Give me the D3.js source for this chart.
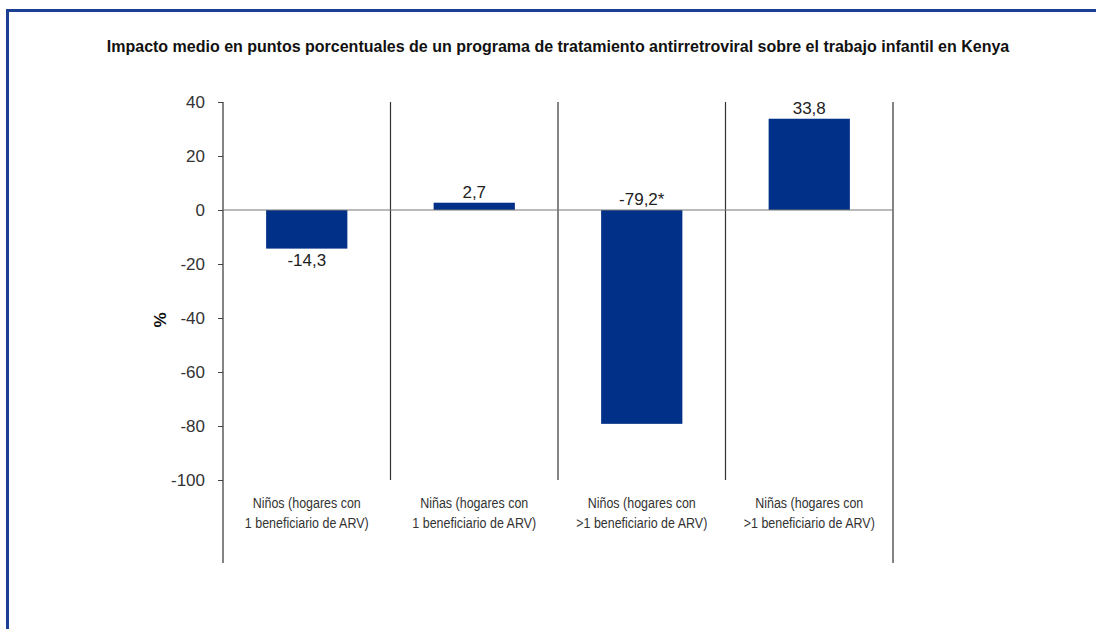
<!DOCTYPE html>
<html>
<head>
<meta charset="utf-8">
<script src="https://cdn.jsdelivr.net/npm/d3@7"></script>
<style>
  body { margin: 0; background: #fff; }
  svg { display: block; }
</style>
</head>
<body>
<div id="chart"></div>
<script>
// data
const categories = [
    ["Niños (hogares con", "1 beneficiario de ARV)"],
    ["Niñas (hogares con", "1 beneficiario de ARV)"],
    ["Niños (hogares con", ">1 beneficiario de ARV)"],
    ["Niñas (hogares con", ">1 beneficiario de ARV)"]
];
const values = [-14.3, 2.7, -79.2, 33.8];
const valueLabels = ["-14,3", "2,7", "-79,2*", "33,8"];
const labelAt = ["end", "end", "base", "end"];
const yTicks = [40, 20, 0, -20, -40, -60, -80, -100];
const title = "Impacto medio en puntos porcentuales de un programa de tratamiento antirretroviral sobre el trabajo infantil en Kenya";

const W = 1096, H = 629;
const svg = d3.select("#chart").append("svg")
    .attr("width", W)
    .attr("height", H);

// blue frame
svg.append("rect")
    .attr("x", 7.5).attr("y", 10.5)
    .attr("width", W + 20).attr("height", H + 20)
    .attr("fill", "none")
    .attr("stroke", "#1c3f94")
    .attr("stroke-width", 3);

// title
svg.append("text")
    .attr("x", 558).attr("y", 52)
    .attr("text-anchor", "middle")
    .style("font-family", "'Liberation Sans', Arial, sans-serif")
    .style("font-weight", "bold")
    .style("font-size", "16px")
    .attr("fill", "#111")
    .text(title);

// scales
const idx = values.map((d, i) => i);
const x = d3.scaleBand().domain(idx).range([223, 893]).paddingInner(0).paddingOuter(0);
const y = d3.scaleLinear().domain([-100, 40]).range([480, 102]);
const barW = x.bandwidth() * 0.485;

// y axis
const yAxis = d3.axisLeft(y).tickValues(yTicks).tickSize(5).tickPadding(13).tickFormat(d => d);
const gy = svg.append("g")
    .attr("transform", "translate(223,0)")
    .call(yAxis);
gy.select(".domain").remove();
gy.selectAll(".tick line").attr("stroke", "#444");
gy.selectAll(".tick text")
    .style("font-family", "'Liberation Sans', Arial, sans-serif")
    .style("font-size", "17px")
    .attr("fill", "#333");

// axis title
svg.append("text")
    .attr("transform", "translate(166,320) rotate(-90)")
    .attr("text-anchor", "middle")
    .style("font-family", "'Liberation Sans', Arial, sans-serif")
    .style("font-weight", "bold")
    .style("font-size", "17px")
    .attr("fill", "#111")
    .text("%");

// vertical dividers
const bounds = idx.map(i => x(i)).concat([x(idx.length - 1) + x.bandwidth()]);
svg.append("g").selectAll("line")
    .data(bounds)
    .enter().append("line")
    .attr("x1", d => d).attr("x2", d => d)
    .attr("y1", y(40))
    .attr("y2", (d, i) => (i === 0 || i === bounds.length - 1) ? 563 : y(-100))
    .attr("stroke", "#333")
    .attr("stroke-width", 1.2);

// bars
svg.append("g").selectAll("rect")
    .data(values)
    .enter().append("rect")
    .attr("x", (d, i) => x(i) + (x.bandwidth() - barW) / 2)
    .attr("y", d => y(Math.max(0, d)))
    .attr("width", barW)
    .attr("height", d => Math.abs(y(d) - y(0)))
    .attr("fill", "#003087");

// zero line
svg.append("line")
    .attr("x1", 223).attr("x2", 893)
    .attr("y1", y(0)).attr("y2", y(0))
    .attr("stroke", "#777")
    .attr("stroke-width", 1.2);

// value labels
svg.append("g").selectAll("text")
    .data(values)
    .enter().append("text")
    .attr("x", (d, i) => x(i) + x.bandwidth() / 2)
    .attr("y", (d, i) => {
        if (labelAt[i] === "base") return y(0) - 5;
        return d >= 0 ? y(d) - 5 : y(d) + 17;
    })
    .attr("text-anchor", "middle")
    .style("font-family", "'Liberation Sans', Arial, sans-serif")
    .style("font-size", "17px")
    .attr("fill", "#222")
    .text((d, i) => valueLabels[i]);

// category labels (condensed look via horizontal scale)
const cat = svg.append("g").selectAll("g")
    .data(categories)
    .enter().append("g")
    .attr("transform", (d, i) => `translate(${x(i) + x.bandwidth() / 2},508) scale(0.86,1)`);
cat.append("text")
    .attr("text-anchor", "middle")
    .style("font-family", "'Liberation Sans', Arial, sans-serif")
    .style("font-size", "14.5px")
    .attr("fill", "#333")
    .selectAll("tspan")
    .data(d => d)
    .enter().append("tspan")
    .attr("x", 0)
    .attr("dy", (t, j) => j === 0 ? 0 : 20)
    .text(t => t);
</script>
</body>
</html>
